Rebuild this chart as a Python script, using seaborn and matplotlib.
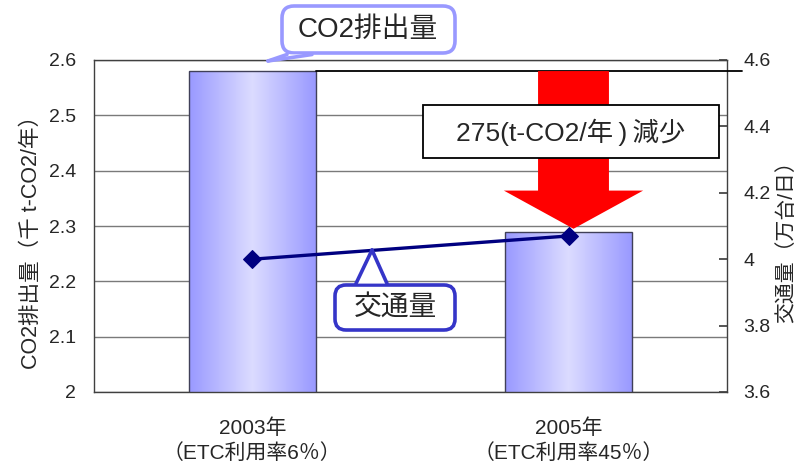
import numpy as np
import pandas as pd
import matplotlib
matplotlib.use("Agg")
import matplotlib.pyplot as plt
import seaborn as sns
from matplotlib.patches import FancyBboxPatch, Polygon, Rectangle
from matplotlib.lines import Line2D
from matplotlib.colors import LinearSegmentedColormap

# ---- data ----
categories = ["2003年\n（ETC利用率6％）", "2005年\n（ETC利用率45％）"]
co2 = [2.58, 2.29]            # 千 t-CO2/年 (left axis)
traffic = [4.00, 4.07]        # 万台/日 (right axis)
left_ticks = [2, 2.1, 2.2, 2.3, 2.4, 2.5, 2.6]
left_ticklabels = ["2", "2.1", "2.2", "2.3", "2.4", "2.5", "2.6"]
right_ticks = [3.6, 3.8, 4.0, 4.2, 4.4, 4.6]
right_ticklabels = ["3.6", "3.8", "4", "4.2", "4.4", "4.6"]
left_label = "CO2排出量（千 t-CO2/年）"
right_label = "交通量（万台/日）"
reduction_text = "275(t-CO2/年\u2009)\u2009減少"
co2_callout = "CO2排出量"
traffic_callout = "交通量"

W, H, DPI = 811, 463, 100

sns.set_theme(style="white")
plt.rcParams["font.family"] = ["Liberation Sans", "Noto Sans CJK JP", "DejaVu Sans"]

fig = plt.figure(figsize=(W / DPI, H / DPI), dpi=DPI)
ax = fig.add_axes([94 / W, 1 - 392 / H, (727 - 94) / W, (392 - 60) / H])

df = pd.DataFrame({"cat": categories, "co2": co2})
sns.barplot(data=df, x="cat", y="co2", ax=ax, width=0.4, color="#9999FF",
            edgecolor="#404058", linewidth=1.0, zorder=2)

YMIN, YMAX = 2.0, 2.6
ax.set_xlim(-0.5, 1.5)
ax.set_ylim(YMIN, YMAX)
ax.set_yticks(left_ticks)
ax.set_yticklabels(left_ticklabels, fontsize=14)
ax.set_xlabel("")
ax.set_ylabel("")
ax.tick_params(axis="y", length=0, pad=13)
ax.tick_params(axis="x", length=0, pad=19, labelsize=15)
for lab in ax.get_xticklabels():
    lab.set_linespacing(1.3)
ax.set_xticks([0.5], minor=True)
ax.tick_params(axis="x", which="minor", direction="in", length=6, color="#404040", width=1)
ax.yaxis.grid(True, color="#7a7a7a", linewidth=1.0, zorder=0)
ax.set_axisbelow(True)
for s in ax.spines.values():
    s.set_color("#404040")
    s.set_linewidth(1.0)

# gradient fill on bars
cmap = LinearSegmentedColormap.from_list("bargrad", ["#9999FF", "#DCDCFF", "#9999FF"])
grad = np.linspace(0, 1, 256).reshape(1, -1)
for bar in ax.patches:
    x0, y0 = bar.get_x(), bar.get_y()
    w, h = bar.get_width(), bar.get_height()
    yb = max(y0, YMIN)
    im = ax.imshow(grad, cmap=cmap, aspect="auto", extent=[x0, x0 + w, yb, y0 + h],
                   zorder=2.1, interpolation="bicubic")
    im.set_clip_path(bar)
    bar.set_facecolor("none")
    bar.set_zorder(2.2)
ax.set_xlim(-0.5, 1.5)
ax.set_ylim(YMIN, YMAX)

# reference line from 2003 bar top extending past the right axis
b0 = ax.patches[0]
ax.plot([b0.get_x() + b0.get_width(), 1.547], [co2[0], co2[0]], color="black",
        linewidth=1.3, clip_on=False, zorder=3)

# red downward arrow from 2003 level to 2005 bar top
xc = 1.015
top, tip = co2[0], co2[1] + 0.005
head_len = 0.069
sw, hw = 0.112, 0.22
arrow = Polygon([(xc - sw, top), (xc + sw, top), (xc + sw, tip + head_len),
                 (xc + hw, tip + head_len), (xc, tip), (xc - hw, tip + head_len),
                 (xc - sw, tip + head_len)], closed=True, facecolor="#FF0000",
                edgecolor="none", zorder=4)
ax.add_patch(arrow)

# right axis: traffic line
ax2 = ax.twinx()
sns.lineplot(x=[0, 1], y=traffic, ax=ax2, color="#000080", linewidth=2.4,
             marker="D", markersize=9, markeredgecolor="#000080", zorder=5)
ax2.set_ylim(3.6, 4.6)
ax2.set_yticks(right_ticks)
ax2.set_yticklabels(right_ticklabels, fontsize=14)
ax2.tick_params(axis="y", direction="in", length=6, pad=12, color="#404040")
ax2.grid(False)
for s in ax2.spines.values():
    s.set_visible(False)
ax2.set_xlim(-0.5, 1.5)

# axis titles
fig.text(31 / W, 1 - 237 / H, left_label, rotation=90, ha="center", va="center", fontsize=15.5)
fig.text(786 / W, 1 - 237 / H, right_label, rotation=90, ha="center", va="center", fontsize=15)

T = fig.dpi_scale_trans


def P(px, py):
    return (px / DPI, (H - py) / DPI)


# reduction box
bx0, by0, bx1, by1 = 423, 105, 719, 158
fig.add_artist(Rectangle(P(bx0, by1), (bx1 - bx0) / DPI, (by1 - by0) / DPI,
                         transform=T, facecolor="white", edgecolor="black",
                         linewidth=1.3, zorder=10))
fig.text(571 / W, 1 - 132 / H, reduction_text, ha="center", va="center",
         fontsize=19, zorder=11)


def callout(x0, y0, x1, y1, base_a, base_b, apex, ec, text, cx, cy, fs, r):
    box = FancyBboxPatch(P(x0, y1), (x1 - x0) / DPI, (y1 - y0) / DPI,
                         boxstyle=f"round,pad=0,rounding_size={r / DPI}",
                         transform=T, facecolor="white", edgecolor=ec,
                         linewidth=2.6, zorder=10)
    fig.add_artist(box)
    inset = [base_a, base_b, apex]
    fig.add_artist(Polygon([P(*p) for p in inset], closed=True, transform=T,
                           facecolor="white", edgecolor="none", zorder=11))
    for p in (base_a, base_b):
        xa, ya = P(*p)
        xb, yb = P(*apex)
        fig.add_artist(Line2D([xa, xb], [ya, yb], transform=T, color=ec,
                              linewidth=2.6, solid_capstyle="round", zorder=12))
    fig.text(cx / W, 1 - cy / H, text, ha="center", va="center", fontsize=fs, zorder=13)


callout(282, 6, 455, 53, (287, 54.5), (312, 54.5), (268, 61), "#9999FF",
        co2_callout, 368, 30, 20, 12)
callout(335, 285, 455, 330, (356, 283.5), (387, 283.5), (372, 250), "#3535C8",
        traffic_callout, 395, 308, 20, 11)

fig.savefig("out.png", dpi=DPI)
